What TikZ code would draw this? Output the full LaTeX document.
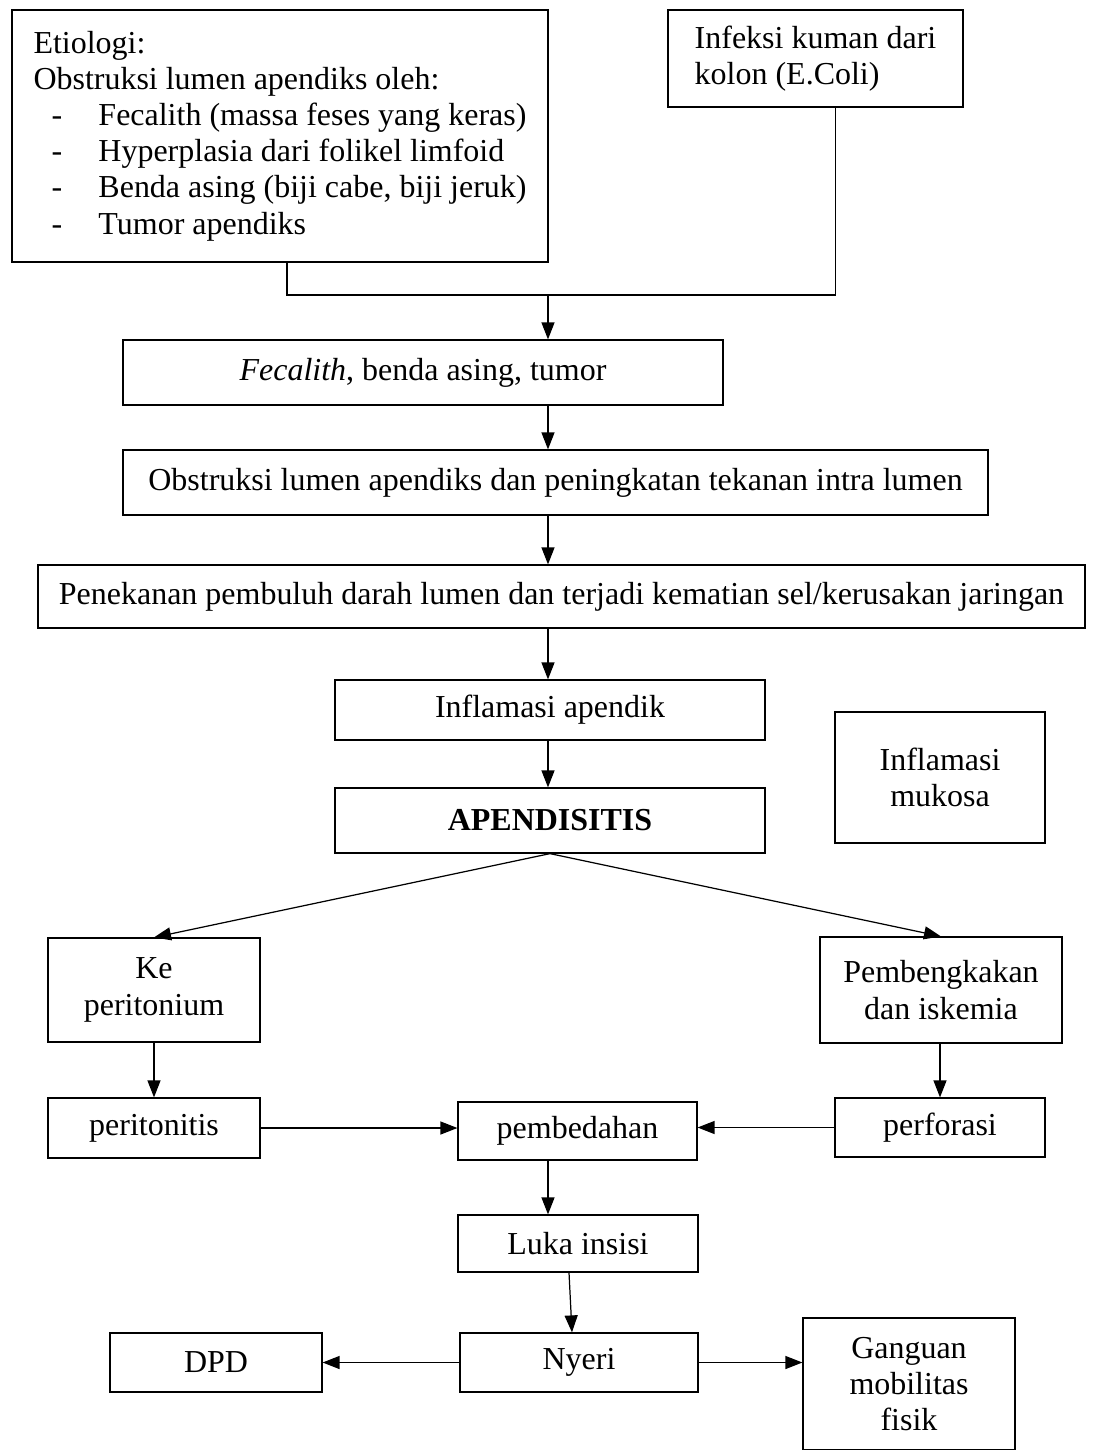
\documentclass[tikz,border=0pt]{standalone}
\usepackage{fontspec}
\setmainfont{Liberation Serif}
\usepackage{tikz}
\usetikzlibrary{arrows.meta,positioning,calc}
\tikzset{
  box/.style  ={rectangle, draw=black, fill=white, align=center, line width=0.7pt,
                inner sep=2pt, font=\fontsize{18.2}{20.6}\selectfont},
  lbox/.style ={box, align=left},
  ar/.style   ={-{Triangle[length=3.4mm,width=2.6mm]}, draw=black, line width=0.7pt},
  ln/.style   ={draw=black, line width=0.7pt}
}
\newcommand{\itm}[1]{\makebox[1.3cm][l]{\hspace{0.36cm}-}#1}

\begin{document}
\begin{tikzpicture}[x=0.02cm, y=-0.02cm]
\useasboundingbox (0,0) rectangle (1093,1450);
% top row
\node[lbox, minimum width=10.72cm, minimum height=5.04cm] (etio) at (280,136)
  {Etiologi:\\Obstruksi lumen apendiks oleh:\\
   \itm{Fecalith (massa feses yang keras)}\\
   \itm{Hyperplasia dari folikel limfoid}\\
   \itm{Benda asing (biji cabe, biji jeruk)}\\
   \itm{Tumor apendiks}};
\node[lbox, minimum width=5.9cm, minimum height=1.94cm] (infk) at (815.5,58.5)
  {Infeksi kuman dari\\kolon (E.Coli)};
\coordinate (join) at (548,295);
% main column
\node[box, minimum width=12cm, minimum height=1.3cm] (fec) at (423,372.5)
  {\textit{Fecalith}, benda asing, tumor};
\node[box, minimum width=17.3cm, minimum height=1.3cm] (obs) at (555.5,482.5)
  {Obstruksi lumen apendiks dan peningkatan tekanan intra lumen};
\node[box, minimum width=20.94cm, minimum height=1.26cm] (pen) at (561.5,596.5)
  {Penekanan pembuluh darah lumen dan terjadi kematian sel/kerusakan jaringan};
\node[box, minimum width=8.6cm, minimum height=1.2cm] (infl) at (550,710) {Inflamasi apendik};
\node[box, minimum width=4.2cm, minimum height=2.62cm] (muk) at (940,777.5) {Inflamasi\\mukosa};
\node[box, minimum width=8.6cm, minimum height=1.3cm] (apd) at (550,820.5) {\textbf{APENDISITIS}};
% branches
\node[box, minimum width=4.24cm, minimum height=2.08cm] (kep) at (154,990) {Ke\\peritonium};
\node[box, minimum width=4.84cm, minimum height=2.12cm] (pmb) at (941,990) {Pembengkakan\\dan iskemia};
\node[box, minimum width=4.24cm, minimum height=1.2cm] (prt) at (154,1128) {peritonitis};
\node[box, minimum width=4.2cm, minimum height=1.18cm] (prf) at (940,1127.5) {perforasi};
\node[box, minimum width=4.78cm, minimum height=1.16cm] (bdh) at (577.5,1131) {pembedahan};
\node[box, minimum width=4.8cm, minimum height=1.14cm] (luka) at (578,1243.5) {Luka insisi};
\node[box, minimum width=4.76cm, minimum height=1.18cm] (nyr) at (579,1362.5) {Nyeri};
\node[box, minimum width=4.24cm, minimum height=1.18cm] (dpd) at (216,1362.5) {DPD};
\node[box, minimum width=4.24cm, minimum height=2.64cm] (ggn) at (909,1384) {Ganguan\\mobilitas\\fisik};
% connectors
\draw[ln] ([xshift=0.14cm]etio.south) |- (join);
\draw[ln] ([xshift=0.4cm]infk.south) |- (join);
\draw[ar] (join) -- (join |- fec.north);
\draw[ar] (join |- fec.south) -- (join |- obs.north);
\draw[ar] (join |- obs.south) -- (join |- pen.north);
\draw[ar] (join |- pen.south) -- (join |- infl.north);
\draw[ar] (join |- infl.south) -- (join |- apd.north);
\draw[ar] (apd.south) -- (kep.north);
\draw[ar] (apd.south) -- (pmb.north);
\draw[ar] (kep) -- (prt);
\draw[ar] (pmb.south -| prf) -- (prf);
\draw[ar] (prt.east) -- (prt.east -| bdh.west);
\draw[ar] (prf.west) -- (prf.west -| bdh.east);
\draw[ar] (join |- bdh.south) -- (join |- luka.north);
\draw[ar] ([xshift=-0.18cm]luka.south) -- ([xshift=-0.14cm]nyr.north);
\draw[ar] (nyr.west) -- (dpd.east);
\draw[ar] (nyr.east) -- (nyr.east -| ggn.west);
\end{tikzpicture}
\end{document}
